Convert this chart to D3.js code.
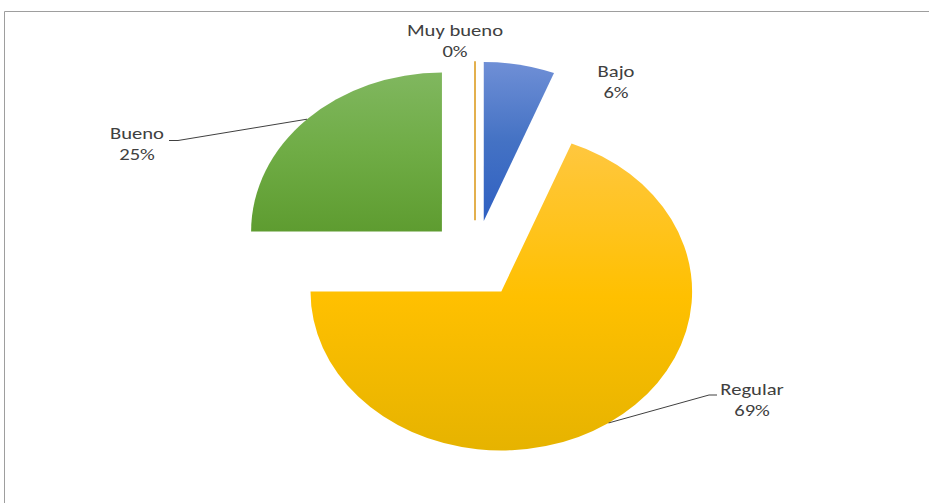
<!DOCTYPE html>
<html>
<head>
<meta charset="utf-8">
<script src="https://cdn.jsdelivr.net/npm/d3@7"></script>
<style>
  html, body { margin: 0; padding: 0; background: #fff; }
  svg { display: block; }
</style>
</head>
<body>
<svg id="chart" width="929" height="503"></svg>
<script>
// Survey result categories, their shares (%) and the printed labels
const categories = ["Bajo", "Regular", "Bueno", "Muy bueno"];
const values = [6, 69, 25, 0];
const valueLabels = ["6%", "69%", "25%", "0%"];

// Slice fills: [top, middle, bottom] of the vertical gradient
const sliceColors = [
  ["#6f8fd6", "#4472c4", "#2f60c2"],
  ["#ffc73f", "#ffc000", "#e6b300"],
  ["#80b75f", "#6fac45", "#5e9c30"],
  ["#e3b04e", "#e3b04e", "#e3b04e"]
];

// Label placement (centre x, first baseline y) and leader-line elbows
const labelPos = {
  "Bajo": [616, 76.5],
  "Regular": [752, 395],
  "Bueno": [137, 139],
  "Muy bueno": [455, 36]
};
const leaderElbows = {
  "Bueno": [[178, 140.5], [169, 140.5]],
  "Regular": [[709, 395], [717, 395]]
};

const svg = d3.select("#chart");
const W = 929, H = 503;

// Chart area frame
svg.append("path")
  .attr("d", `M4.5,${H} L4.5,11.5 L${W},11.5`)
  .attr("fill", "none")
  .attr("stroke", "#9e9e9e")
  .attr("stroke-width", 1);

const cx = 475, cy = 259.2, r = 159, sx = 1.2, explode = 39;

const defs = svg.append("defs");
sliceColors.forEach((c, i) => {
  const g = defs.append("linearGradient")
    .attr("id", "grad" + i)
    .attr("x1", 0).attr("y1", 0).attr("x2", 0).attr("y2", 1);
  g.append("stop").attr("offset", "0%").attr("stop-color", c[0]);
  g.append("stop").attr("offset", "50%").attr("stop-color", c[1]);
  g.append("stop").attr("offset", "100%").attr("stop-color", c[2]);
});

const pie = d3.pie().sort(null).value(d => d)
  .startAngle(0).endAngle(2 * Math.PI);
const arcs = pie(values);
const arc = d3.arc().innerRadius(0).outerRadius(r);

// The pie is drawn stretched horizontally
const pieG = svg.append("g")
  .attr("transform", `translate(${cx},${cy}) scale(${sx},1)`);

function offsetOf(d) {
  const a = (d.startAngle + d.endAngle) / 2;
  return [Math.sin(a) * explode, -Math.cos(a) * explode];
}

pieG.selectAll("path.slice")
  .data(arcs)
  .join("path")
  .attr("class", "slice")
  .attr("transform", d => { const o = offsetOf(d); return `translate(${o[0]},${o[1]})`; })
  .attr("d", arc)
  .attr("fill", (d, i) => d.value === 0 ? "none" : `url(#grad${i})`)
  .attr("stroke", (d, i) => d.value === 0 ? sliceColors[i][1] : "none")
  .attr("stroke-width", 2)
  .attr("vector-effect", "non-scaling-stroke");

// Outer-arc point at a slice's mid-angle, in page coordinates
function outerPoint(d) {
  const a = (d.startAngle + d.endAngle) / 2;
  const o = offsetOf(d);
  return [cx + (o[0] + Math.sin(a) * r) * sx, cy + o[1] - Math.cos(a) * r];
}

// Leader lines
arcs.forEach((d, i) => {
  const el = leaderElbows[categories[i]];
  if (!el) return;
  const pts = [outerPoint(d)].concat(el);
  svg.append("path")
    .attr("d", d3.line()(pts))
    .attr("fill", "none")
    .attr("stroke", "#404040")
    .attr("stroke-width", 1);
});

// Data labels: category name and percentage
arcs.forEach((d, i) => {
  const p = labelPos[categories[i]];
  const t = svg.append("g")
    .attr("transform", `translate(${p[0]},${p[1]}) scale(1.25,1)`)
    .attr("font-family", "Carlito, Calibri, Lato, sans-serif")
    .attr("font-size", 16.5)
    .attr("fill", "#404040")
    .attr("text-anchor", "middle");
  t.append("text").attr("x", 0).attr("y", 0).text(categories[i]);
  t.append("text").attr("x", 0).attr("y", 21.5).text(valueLabels[i]);
});
</script>
</body>
</html>
